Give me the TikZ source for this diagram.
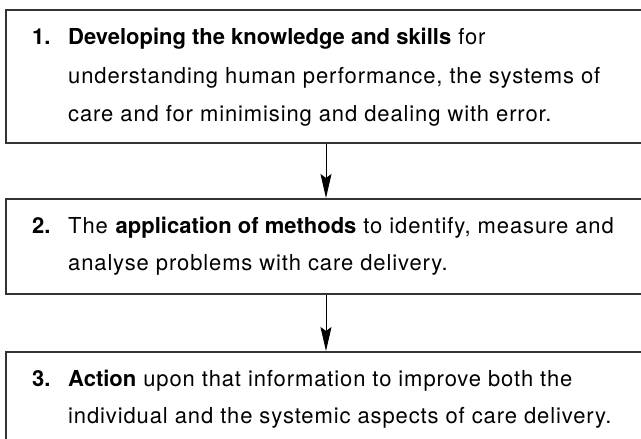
\documentclass[tikz,border=0pt]{standalone}
\usepackage{fontspec}
\setmainfont{TeX Gyre Heros}[LetterSpace=4, BoldFeatures={LetterSpace=0}]
\usetikzlibrary{arrows.meta}
\begin{document}
\begin{tikzpicture}[x=1pt,y=1pt,
  box/.style={draw=black!80, line width=1.5pt, rectangle, minimum width=680pt, anchor=north west, inner sep=0pt},
  txt/.style={anchor=base west, inner sep=0pt, font=\fontsize{22}{38}\selectfont},
  conn/.style={-{Stealth[length=24pt,width=11pt,inset=4pt]}, line width=1pt, draw=black}]
\useasboundingbox (0,0) rectangle (641,-439);
\fill[white] (0,0) rectangle (641,-439);
\node[box, minimum height=133pt] (b1) at (5,-9) {};
\node[box, minimum height=95pt] (b2) at (5,-198) {};
\node[box, minimum height=130pt] (b3) at (5,-351) {};
% box 1 text
\node[txt] (n1) at (32,-45) {\textbf{1.}};
\node[txt] (t11) at (68,-45) {\textbf{Developing the knowledge and skills} for};
\node[txt] (t12) at (68,-83) {understanding human performance, the systems of};
\node[txt] (t13) at (68,-121) {care and for minimising and dealing with error.};
% box 2 text
\node[txt] (n2) at (32,-233) {\textbf{2.}};
\node[txt] (t21) at (68,-233) {The \textbf{application of methods} to identify, measure and};
\node[txt] (t22) at (68,-270) {analyse problems with care delivery.};
% box 3 text
\node[txt] (n3) at (32,-386) {\textbf{3.}};
\node[txt] (t31) at (68,-386) {\textbf{Action} upon that information to improve both the};
\node[txt] (t32) at (68,-423) {individual and the systemic aspects of care delivery.};
% connectors
\draw[conn] ([xshift=321pt]b1.south west) -- ([xshift=321pt]b2.north west);
\draw[conn] ([xshift=321pt]b2.south west) -- ([xshift=321pt]b3.north west);
\end{tikzpicture}
\end{document}
